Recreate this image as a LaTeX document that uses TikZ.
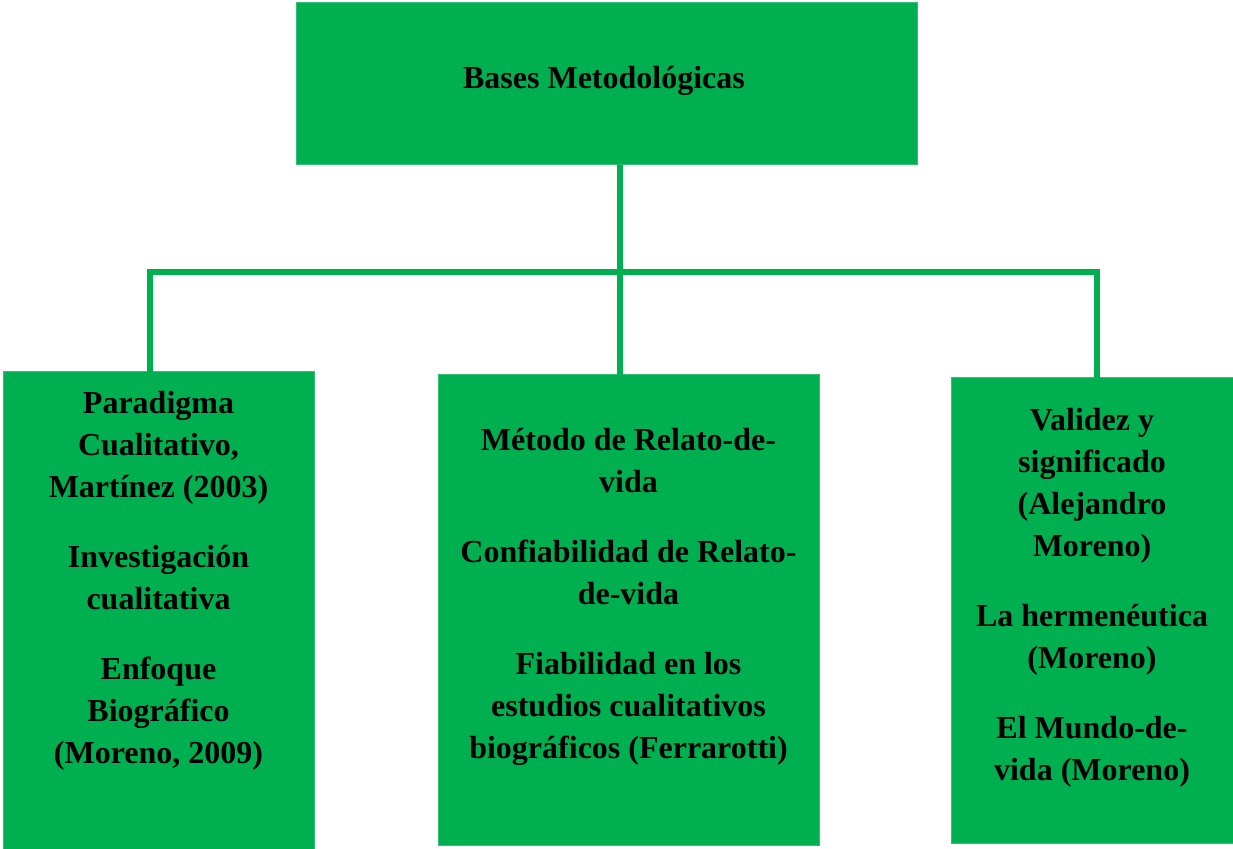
\documentclass[tikz,border=0pt]{standalone}
\usepackage{fontspec}
\setmainfont{Liberation Serif}
\definecolor{boxgreen}{HTML}{00B050}
\begin{document}
\begin{tikzpicture}[x=1pt,y=-1pt,
  greenbox/.style={rectangle,fill=boxgreen,draw=boxgreen!80!white,line width=0.8pt,inner sep=0pt,anchor=north west},
  boxtext/.style={anchor=base,align=center,inner sep=0pt,font=\fontsize{32}{42}\selectfont\bfseries},
  conn/.style={draw=boxgreen,line width=5.5pt}]
\useasboundingbox (0,0) rectangle (1233,848);
% boxes
\node[greenbox,minimum width=621pt,minimum height=162pt] (T) at (296,2) {};
\node[greenbox,minimum width=311pt,minimum height=478pt] (L) at (3,371) {};
\node[greenbox,minimum width=381pt,minimum height=471pt] (M) at (438,374) {};
\node[greenbox,minimum width=282pt,minimum height=466pt] (R) at (951,377) {};
% texts (anchor = baseline of last line)
\node[boxtext] (Tt) at (604,89) {Bases Metodológicas};
\node[boxtext] (Lt) at (158.5,763) {Paradigma\\Cualitativo,\\Martínez (2003)\\[28pt]Investigación\\cualitativa\\[28pt]Enfoque\\Biográfico\\(Moreno, 2009)};
\node[boxtext] (Mt) at (628.5,758) {Método de Relato-de-\\vida\\[28pt]Confiabilidad de Relato-\\de-vida\\[28pt]Fiabilidad en los\\estudios cualitativos\\biográficos (Ferrarotti)};
\node[boxtext] (Rt) at (1092,780) {Validez y\\significado\\(Alejandro\\Moreno)\\[28pt]La hermenéutica\\(Moreno)\\[28pt]El Mundo-de-\\vida (Moreno)};
% connectors
\coordinate (jL) at (150,272);
\coordinate (jM) at (620,272);
\coordinate (jR) at (1097,272);
\draw[conn] (jM |- T.south) -- (jM) -- ([yshift=-2pt]jM |- M.north);
\draw[conn] ([yshift=-2pt]jL |- L.north) -- (jL) -- (jR) -- ([yshift=-4pt]jR |- R.north);
\end{tikzpicture}
\end{document}
